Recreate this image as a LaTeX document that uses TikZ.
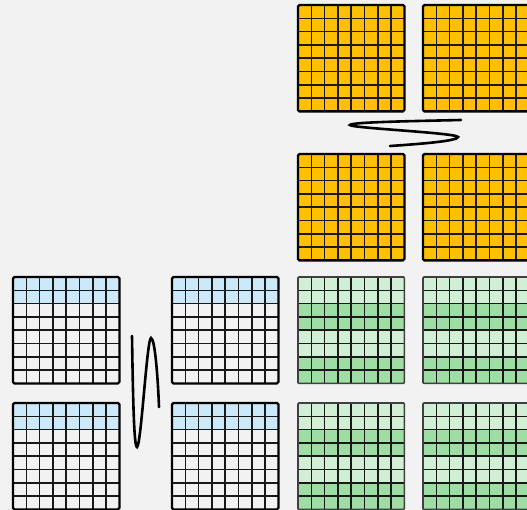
\documentclass[tikz,border=0pt]{standalone}
\usepackage{tikz}
\usetikzlibrary{positioning}

\definecolor{paper}{HTML}{F2F2F2}
\definecolor{amber}{HTML}{FFC000}
\definecolor{skyrow}{HTML}{CCE8F9}
\definecolor{mintrow}{HTML}{D1EFD4}
\definecolor{leafrow}{HTML}{9EDEA4}

% one 8x8 block: corner x, corner y, border style, fill of each row
\newcommand{\tileblock}[4]{%
  \begin{scope}[shift={(#1,#2)}]
    \foreach \rowfill [count=\row from 0] in {#4}
      {\fill[\rowfill] (0,\row*13.3) rectangle ++(106.4,13.3);}
    \foreach \k in {1,...,7}{
      \draw[cellline] (\k*13.3,0) -- (\k*13.3,106.4);
      \draw[cellline] (0,\k*13.3) -- (106.4,\k*13.3);
    }
    \draw[#3] (0,0) rectangle (106.4,106.4);
  \end{scope}}

\begin{document}
\begin{tikzpicture}[
    x=1pt, y=-1pt,
    cellline/.style={line width=1.5pt, black!90},
    heavyrim/.style={line width=2.3pt, black, rounded corners=1.5pt},
    softrim/.style={line width=1.6pt, black!75, rounded corners=1pt},
    squiggle/.style={line width=2.6pt, black, line cap=round}
]
\fill[paper] (0,0) rectangle (527,510);
\useasboundingbox (0,0) rectangle (527,510);

% amber blocks
\foreach \bx in {298,423}{
  \foreach \by in {5,154}{
    \tileblock{\bx}{\by}{heavyrim}{amber,amber,amber,amber,amber,amber,amber,amber}
  }
}

% green blocks
\foreach \bx in {298,423}{
  \foreach \by in {277,403}{
    \tileblock{\bx}{\by}{softrim}{mintrow,mintrow,leafrow,leafrow,mintrow,mintrow,leafrow,leafrow}
  }
}

% blue topped blocks
\foreach \bx in {13,172}{
  \foreach \by in {277,403}{
    \tileblock{\bx}{\by}{heavyrim}{skyrow,skyrow,paper,paper,paper,paper,paper,paper}
  }
}

% break marks
\draw[squiggle] (461,120) .. controls (420,121) and (350,122) .. (350,125)
  .. controls (350,128) and (458,133) .. (458,137)
  .. controls (458,141) and (420,144) .. (390,146);
\draw[squiggle] (132,336) .. controls (133,400) and (134,447) .. (137,447)
  .. controls (141,447) and (147,338) .. (151,338)
  .. controls (155,338) and (158,380) .. (159,407);
\end{tikzpicture}
\end{document}
